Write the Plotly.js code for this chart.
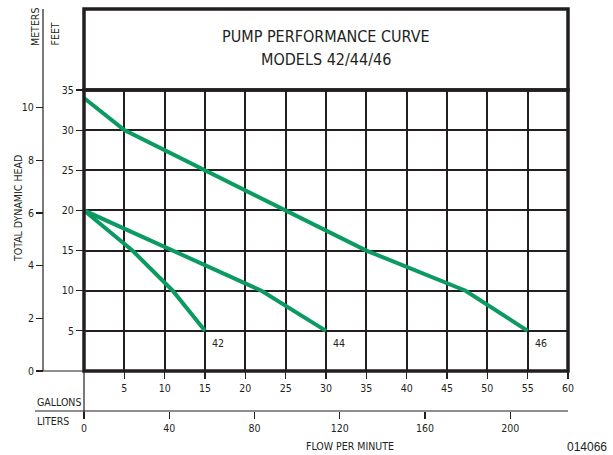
<!DOCTYPE html>
<html><head><meta charset="utf-8">
<script src="https://cdn.plot.ly/plotly-3.0.1.min.js"></script>
<style>html,body{margin:0;padding:0;background:#fff}#chart{width:613px;height:455px}</style>
</head><body><div id="chart"></div>
<script>
// ---- data ----
const models = ['42', '44', '46'];
const gal42 = [0, 6, 11, 15];
const ft42  = [20, 15, 10, 5];
const gal44 = [0, 22, 30];
const ft44  = [20, 10, 5];
const gal46 = [0, 5, 35, 47.3, 55];
const ft46  = [34, 30, 15, 10, 5];
const galTicks = [5, 10, 15, 20, 25, 30, 35, 40, 45, 50, 55, 60];
const ftTicks  = [5, 10, 15, 20, 25, 30, 35];
const mTicks   = [0, 2, 4, 6, 8, 10];
const lTicks   = [0, 40, 80, 120, 160, 200];
const titleLines = ['PUMP PERFORMANCE CURVE', 'MODELS 42/44/46'];

// ---- layout helpers ----
const W = 613, H = 455, L = 30, R = 45, T = 9, B = 20;
const pw = W - L - R, ph = H - T - B;
const px = x => (x - L) / pw;
const py = y => (H - B - y) / ph;
const INK = '#231f20';
const GREEN = '#0a9a62';
const NARROW = "'Liberation Sans Narrow', 'DejaVu Sans Condensed', 'Arial Narrow', sans-serif";
const PLOT = {x0: 84, x1: 568, y0: 90, y1: 371};
const GAL_MAX = 60, FT_MAX = 35;

const series = [[gal42, ft42], [gal44, ft44], [gal46, ft46]];
const traces = series.map((s, i) => ({
  x: s[0], y: s[1], type: 'scatter', mode: 'lines', name: models[i],
  line: {color: GREEN, width: 4}, hoverinfo: 'skip', xaxis: 'x', yaxis: 'y'
}));
traces.push({x: [0], y: [0], xaxis: 'x2', yaxis: 'y2', mode: 'markers',
  marker: {opacity: 0}, hoverinfo: 'skip', showlegend: false});

const tickFont = {family: NARROW, size: 10.5, color: INK};

const line = (x0, y0, x1, y1, w) => ({type: 'line', xref: 'paper', yref: 'paper',
  x0: px(x0), y0: py(y0), x1: px(x1), y1: py(y1), line: {color: INK, width: w}});

const shapes = [
  {type: 'rect', xref: 'paper', yref: 'paper', x0: px(PLOT.x0), x1: px(PLOT.x1),
   y0: py(PLOT.y0), y1: py(9), line: {color: INK, width: 3.5}},
  {type: 'rect', xref: 'paper', yref: 'paper', x0: px(PLOT.x0), x1: px(PLOT.x1),
   y0: py(PLOT.y1), y1: py(PLOT.y0), line: {color: INK, width: 3.5}},
  line(PLOT.x0, PLOT.y1, PLOT.x0, 418, 1.2),
  line(43, 9, 43, PLOT.y1, 1.2),
  line(36, PLOT.y1, PLOT.x0, PLOT.y1, 1.2),
  line(35, 411, PLOT.x1, 411, 1.2)
];

const ann = (text, x, y, opts) => Object.assign({text, xref: 'paper', yref: 'paper',
  x: px(x), y: py(y), xanchor: 'center', yanchor: 'middle', showarrow: false,
  font: {family: NARROW, size: 10.5, color: INK}}, opts || {});

const annotations = [
  ann(titleLines[0], 326, 37, {font: {family: NARROW, size: 16, color: INK}}),
  ann(titleLines[1], 326, 60, {font: {family: NARROW, size: 16, color: INK}}),
  ann('METERS', 35, 48, {textangle: -90, yanchor: 'bottom'}),
  ann('FEET', 55, 48, {textangle: -90, yanchor: 'bottom'}),
  ann('TOTAL DYNAMIC HEAD', 18, 209, {textangle: -90}),
  ann('GALLONS', 35, 402, {xanchor: 'left'}),
  ann('LITERS', 35, 421, {xanchor: 'left'}),
  ann('FLOW PER MINUTE', 350, 446),
  ann('014066', 609, 447, {xanchor: 'right', font: {family: "'Liberation Sans', Arial, sans-serif", size: 12, color: INK}})
];
series.forEach((s, i) => {
  const n = s[0].length;
  annotations.push({text: models[i], x: s[0][n - 1] + 0.6, y: s[1][n - 1] - 1.5,
    xref: 'x', yref: 'y', xanchor: 'left', yanchor: 'middle', showarrow: false,
    font: {family: NARROW, size: 10.5, color: INK}});
});

const layout = {
  width: W, height: H, margin: {l: L, r: R, t: T, b: B},
  paper_bgcolor: '#fff', plot_bgcolor: '#fff', showlegend: false,
  xaxis: {domain: [px(PLOT.x0), px(PLOT.x1)], range: [0, GAL_MAX], tickvals: galTicks,
    ticktext: galTicks.map(String), ticks: 'outside', ticklen: 7, tickwidth: 1.2, tickcolor: INK,
    showgrid: true, gridcolor: INK, gridwidth: 2, zeroline: false, showline: false,
    tickfont: tickFont, fixedrange: true},
  yaxis: {domain: [py(PLOT.y1), py(PLOT.y0)], range: [0, FT_MAX], tickvals: ftTicks,
    ticktext: ftTicks.map(String), ticks: 'outside', ticklen: 7, tickwidth: 1.2, tickcolor: INK,
    showgrid: true, gridcolor: INK, gridwidth: 2, zeroline: false, showline: false,
    tickfont: tickFont, fixedrange: true},
  yaxis2: {overlaying: 'y', anchor: 'free', position: px(43), side: 'left',
    range: [0, FT_MAX * 0.3048], tickvals: mTicks, ticktext: mTicks.map(String),
    ticks: 'outside', ticklen: 7, tickwidth: 1.2, tickcolor: INK, showgrid: false,
    zeroline: false, showline: false, tickfont: tickFont, fixedrange: true},
  xaxis2: {overlaying: 'x', anchor: 'free', position: py(411), side: 'bottom',
    range: [0, GAL_MAX * 3.785411784], tickvals: lTicks, ticktext: lTicks.map(String),
    ticks: 'outside', ticklen: 7, tickwidth: 1.2, tickcolor: INK, showgrid: false,
    zeroline: false, showline: false, tickfont: tickFont, fixedrange: true},
  shapes, annotations
};

Plotly.newPlot('chart', traces, layout, {staticPlot: true, displayModeBar: false});
</script></body></html>
